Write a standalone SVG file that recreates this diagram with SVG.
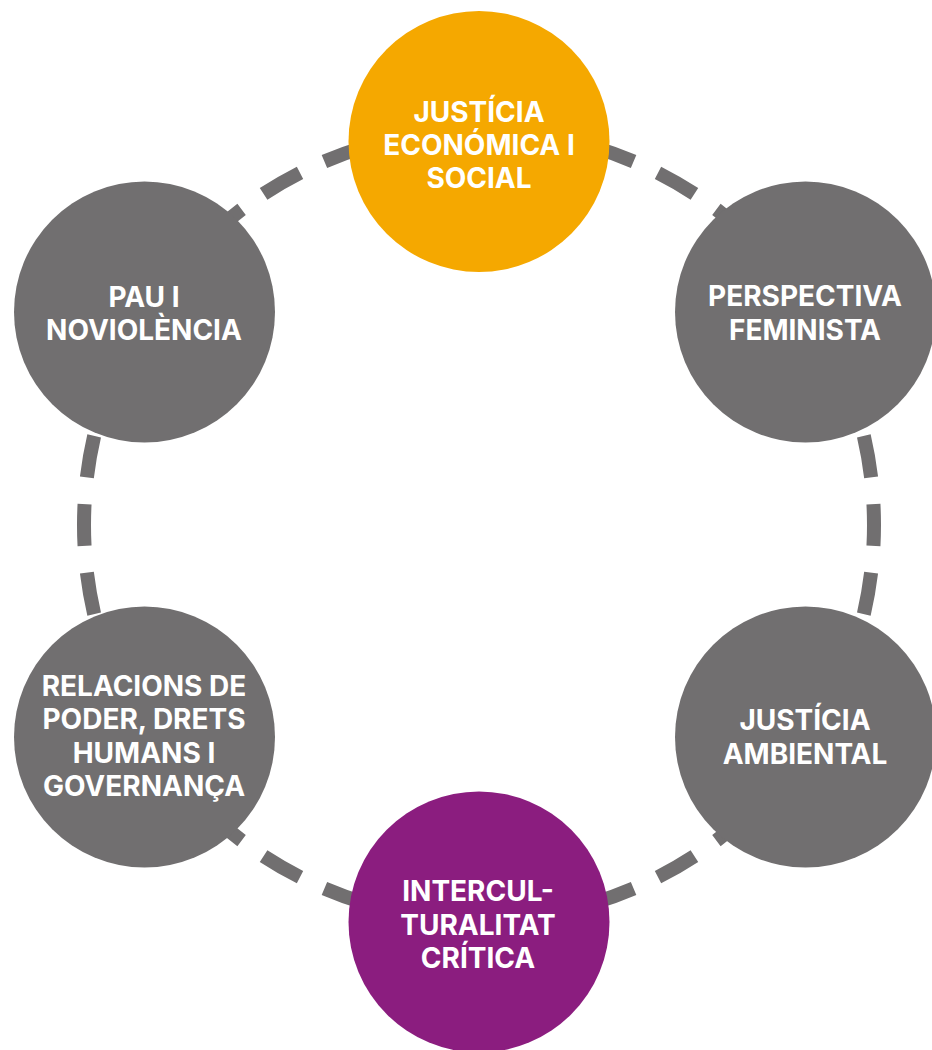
<svg xmlns="http://www.w3.org/2000/svg" width="932" height="1050" viewBox="0 0 932 1050">
<style>
.ring{fill:none;stroke:#716f70;stroke-width:14;stroke-dasharray:6.1 3.9;stroke-dashoffset:3.05}
.gray{fill:#716f70}
.orange{fill:#f5a800}
.purple{fill:#8b1d7f}
text{font-family:Inter,"Liberation Sans",Arial,sans-serif;font-weight:700;font-size:28px;fill:#ffffff;text-anchor:middle}
</style>
<rect width="932" height="1050" fill="#ffffff"/>
<g id="connectors">
<circle class="ring" cx="479" cy="525" r="395" pathLength="360"/>
</g>
<g id="node-justicia-economica">
<circle class="orange" cx="479" cy="141.5" r="130.5"/>
<text x="479" y="121.7">JUSTÍCIA</text>
<text x="479" y="155">ECONÓMICA I</text>
<text x="479" y="188.3">SOCIAL</text>
</g>
<g id="node-perspectiva-feminista">
<circle class="gray" cx="805.5" cy="312" r="130.5"/>
<text x="805" y="306">PERSPECTIVA</text>
<text x="805" y="340">FEMINISTA</text>
</g>
<g id="node-justicia-ambiental">
<circle class="gray" cx="805.5" cy="737" r="130.5"/>
<text x="805" y="730">JUSTÍCIA</text>
<text x="805" y="764">AMBIENTAL</text>
</g>
<g id="node-interculturalitat">
<circle class="purple" cx="479" cy="922" r="130.5"/>
<text x="478" y="900.7">INTERCUL-</text>
<text x="478" y="935">TURALITAT</text>
<text x="478" y="968.3">CRÍTICA</text>
</g>
<g id="node-relacions-poder">
<circle class="gray" cx="144.5" cy="737" r="130.5"/>
<text x="144" y="696">RELACIONS DE</text>
<text x="144" y="729.3">PODER, DRETS</text>
<text x="144" y="762.7">HUMANS I</text>
<text x="144" y="796">GOVERNANÇA</text>
</g>
<g id="node-pau">
<circle class="gray" cx="144.5" cy="312" r="130.5"/>
<text x="144" y="306.7">PAU I</text>
<text x="144" y="340">NOVIOLÈNCIA</text>
</g>
</svg>
